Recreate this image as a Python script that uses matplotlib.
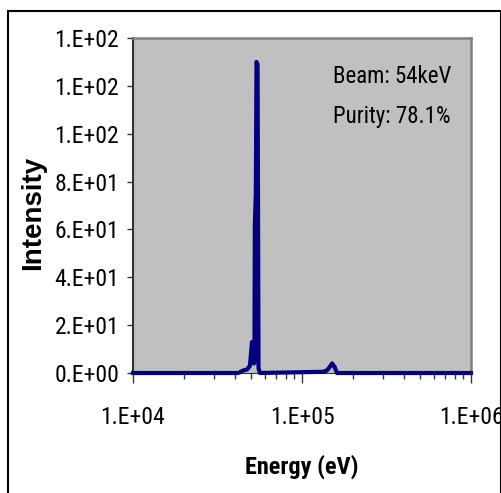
import matplotlib
matplotlib.use("Agg")
from matplotlib import pyplot as plt
from matplotlib.patches import Rectangle
from matplotlib.ticker import FixedLocator, LogLocator, NullFormatter

# spectrum
energy_ev = [10000, 42000, 44800, 47300, 49200, 50600, 51500, 52000, 52300,
             52600, 53300, 53800, 54600, 55300, 56400, 133000, 140000,
             146000, 150600, 156000, 161000, 1000000]
intensity = [0, 0, 1, 1.5, 3, 13, 12, 4, 5,
             62, 75, 130, 129, 2, 0, 0.5, 1,
             2.5, 4, 2.5, 0, 0]

y_ticks = [0, 20, 40, 60, 80, 100, 120, 140]
y_tick_labels = ["0.E+00", "2.E+01", "4.E+01", "6.E+01", "8.E+01",
                 "1.E+02", "1.E+02", "1.E+02"]
x_ticks = [1e4, 1e5, 1e6]
x_tick_labels = ["1.E+04", "1.E+05", "1.E+06"]

narrow = ["Roboto Condensed", "Archivo Narrow", "Liberation Sans",
          "DejaVu Sans"]
narrow_bold = ["Roboto Condensed", "IBM Plex Sans Condensed",
               "Liberation Sans", "DejaVu Sans"]
wide = ["Liberation Sans", "DejaVu Sans"]

fig = plt.figure(figsize=(5.02, 4.93), dpi=100)
ax = fig.add_axes([133 / 502, 120 / 493, 338 / 502, 335 / 493])
ax.set_facecolor("#C0C0C0")

ax.plot(energy_ev, intensity, color="#000080", lw=3.0, clip_on=False,
        solid_joinstyle="round", zorder=3)

ax.set_xscale("log")
ax.set_xlim(1e4, 1e6)
ax.set_ylim(0, 140)

ax.xaxis.set_major_locator(FixedLocator(x_ticks))
ax.set_xticklabels(x_tick_labels)
ax.xaxis.set_minor_locator(LogLocator(base=10, subs=range(2, 10)))
ax.xaxis.set_minor_formatter(NullFormatter())
ax.set_yticks(y_ticks)
ax.set_yticklabels(y_tick_labels)

for lab in ax.get_xticklabels() + ax.get_yticklabels():
    lab.set_fontfamily(narrow)
    lab.set_fontsize(17)

ax.tick_params(axis="x", which="major", direction="out", length=7,
               width=1, color="#333333", pad=17)
ax.tick_params(axis="x", which="minor", direction="out", length=4.5,
               width=1, color="#333333")
ax.tick_params(axis="y", direction="out", length=4, width=1,
               color="#333333", pad=6)

ax.spines["left"].set_color("#333333")
ax.spines["left"].set_linewidth(1.5)
ax.spines["bottom"].set_color("#333333")
ax.spines["top"].set_color("#808080")
ax.spines["top"].set_linewidth(1.8)
ax.spines["right"].set_color("#808080")
ax.spines["right"].set_linewidth(1.8)

ax.set_xlabel("Energy (eV)", fontfamily=narrow_bold, fontsize=17.5,
              fontweight="bold", va="top")
ax.xaxis.set_label_coords(0.5, -0.245)
ax.set_ylabel("Intensity", fontfamily=wide, fontsize=20, fontweight="bold")
ax.yaxis.label.set_va("center")
ax.yaxis.set_label_coords(-0.296, 0.479)

ax.text(0.591, 0.866, "Beam: 54keV", transform=ax.transAxes,
        fontfamily=narrow, fontsize=16.5, va="baseline", ha="left")
ax.text(0.591, 0.746, "Purity: 78.1%", transform=ax.transAxes,
        fontfamily=narrow, fontsize=16.5, va="baseline", ha="left")

# outer chart frame, clipped by the figure edge on the right and bottom
fig.patches.append(Rectangle((8.5 / 502, -0.1), 492.5 / 502, 1.1 - 11 / 493,
                             transform=fig.transFigure, fill=False,
                             edgecolor="black", lw=1.5))

fig.savefig("out.png", dpi=100)
